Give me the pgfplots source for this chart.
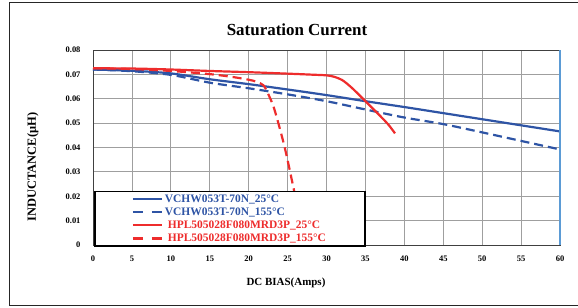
\documentclass[border=0pt]{standalone}
\usepackage{fontspec}
\setmainfont{Liberation Serif}
\usepackage{pgfplots}
\pgfplotsset{compat=1.18}
\definecolor{bl}{RGB}{46,84,165}
\definecolor{rd}{RGB}{238,44,44}
\definecolor{axb}{RGB}{91,155,213}
\begin{document}
\begin{tikzpicture}
\begin{axis}[
  scale only axis,
  width=467bp, height=195bp,
  xmin=0, xmax=60, ymin=0, ymax=0.08,
  xtick={0,5,...,60}, ytick={0,0.01,0.02,0.03,0.04,0.05,0.06,0.07,0.08},
  yticklabels={0,0.01,0.02,0.03,0.04,0.05,0.06,0.07,0.08},
  scaled y ticks=false,
  /pgf/number format/assume math mode=true,
  ticklabel style={font=\fontsize{8.5}{10}\bfseries\selectfont},
  xticklabel style={yshift=-7bp},
  yticklabel style={xshift=-9bp},
  grid=major, grid style={gray!75, line width=0.8bp},
  axis line style={black!75, line width=0.8bp},
  major tick length=0pt,
  clip=false,
  legend cell align=left,
  legend image code/.code={\draw[#1] (0bp,0bp) -- (29bp,0bp);},
  legend style={at={(0.002,-0.01)}, anchor=south west, draw=black, line width=1.6bp, fill=white,
    inner xsep=37bp, inner ysep=1.2bp, row sep=0bp,
    font=\fontsize{11.5}{12.8}\bfseries\selectfont},
]
\addplot[bl, line width=2.2bp, smooth, forget plot] coordinates {
(0,0.0720) (5,0.0715) (10,0.0704) (15,0.0680) (20,0.0660) (25,0.0638) (30,0.0615) (35,0.0590)
(40,0.0566) (45,0.0541) (50,0.0516) (55,0.0491) (60,0.0466)};
\addplot[bl, line width=2.2bp, dash pattern=on 9bp off 5bp, smooth, forget plot] coordinates {
(0,0.0720) (5,0.0713) (10,0.0698) (15,0.0666) (20,0.0643) (25,0.0618) (30,0.0590) (35,0.0556)
(40,0.0523) (45,0.0496) (50,0.0462) (55,0.0427) (60,0.0392)};
\addplot[rd, line width=2.2bp, smooth, forget plot] coordinates {
(0,0.0725) (5,0.0724) (10,0.0720) (15,0.0714) (20,0.0709) (25,0.0703) (28,0.0699) (30,0.0696)
(31,0.0690) (32,0.0677) (33,0.0652) (34,0.0622) (35,0.0590) (36,0.0558) (37,0.0526) (38,0.0492) (38.8,0.0458)};
\addplot[rd, line width=2.2bp, dash pattern=on 9bp off 5bp, smooth, forget plot] coordinates {
(0,0.0725) (5,0.0722) (10,0.0714) (15,0.0701) (18,0.0689) (20,0.0678) (21,0.0670) (21.9,0.0655)
(22.5,0.0620) (23.2,0.0567) (24,0.0478) (24.8,0.0377) (25.9,0.0213)};
\draw[axb, line width=1.2bp] (rel axis cs:1,0) -- (rel axis cs:1,1);
\coordinate (O) at (rel axis cs:0,0);
\addlegendimage{bl, line width=2.2bp}
\addlegendentry{\textcolor{bl}{VCHW053T-70N\_25°C}}
\addlegendimage{bl, line width=2.2bp, dash pattern=on 10bp off 9bp}
\addlegendentry{\textcolor{bl}{VCHW053T-70N\_155°C}}
\addlegendimage{rd, line width=2.2bp}
\addlegendentry{\textcolor{rd}{\hspace{3bp}HPL505028F080MRD3P\_25°C}}
\addlegendimage{rd, line width=2.2bp, dash pattern=on 10bp off 9bp}
\addlegendentry{\textcolor{rd}{\hspace{3bp}HPL505028F080MRD3P\_155°C}}
\end{axis}
\begin{scope}[shift={(O)}, x=1bp, y=1bp]
\draw[line width=1bp, black!85] (-83.5,-60.5) rectangle (510,242.5);
\node[font=\fontsize{17}{20}\bfseries\selectfont] at (204,215) {Saturation Current};
\node[font=\fontsize{11}{13}\bfseries\selectfont] at (193,-38) {DC BIAS(Amps)};
\node[font=\fontsize{12.5}{15}\bfseries\selectfont, rotate=90] at (-60,78) {INDUCTANCE(μH)};
\end{scope}
\pgfresetboundingbox
\path[shift={(O)}, x=1bp, y=1bp] (-93,-62) rectangle (485,245);
\end{tikzpicture}
\end{document}
